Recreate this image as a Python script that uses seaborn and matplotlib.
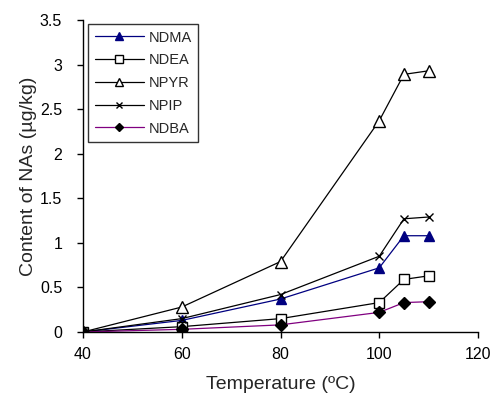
import matplotlib
matplotlib.use("Agg")
import matplotlib.pyplot as plt
import seaborn as sns
import pandas as pd

temperature = [40, 60, 80, 100, 105, 110]
ndma = [0.0, 0.13, 0.37, 0.72, 1.08, 1.08]
ndea = [0.0, 0.06, 0.15, 0.33, 0.59, 0.63]
npyr = [0.0, 0.28, 0.79, 2.37, 2.89, 2.93]
npip = [0.0, 0.15, 0.42, 0.85, 1.27, 1.29]
ndba = [0.0, 0.03, 0.08, 0.22, 0.33, 0.34]
x_ticks = [40, 60, 80, 100, 120]
y_ticks = [0, 0.5, 1, 1.5, 2, 2.5, 3, 3.5]

sns.set_style("white")
plt.rcParams['font.family'] = ['Liberation Sans', 'DejaVu Sans']

fig = plt.figure(figsize=(4.92, 4.01), dpi=100)
ax = fig.add_axes([83/492, 1 - 332/401, (478-83)/492, (332-20)/401])

styles = [
    ("NDMA", ndma, dict(color="#000080", marker="^", markerfacecolor="#000080", markeredgecolor="#000080", markersize=7)),
    ("NDEA", ndea, dict(color="black", marker="s", markerfacecolor="white", markeredgecolor="black", markersize=7)),
    ("NPYR", npyr, dict(color="black", marker="^", markerfacecolor="white", markeredgecolor="black", markersize=8)),
    ("NPIP", npip, dict(color="black", marker="x", markeredgecolor="black", markersize=6)),
    ("NDBA", ndba, dict(color="#800080", marker="D", markerfacecolor="black", markeredgecolor="black", markersize=6)),
]
for name, vals, st in styles:
    df = pd.DataFrame({"t": temperature, "v": vals})
    sns.lineplot(data=df, x="t", y="v", ax=ax, label=name, linewidth=0.9,
                 markeredgewidth=1.0, **st)

ax.set_xlim(40, 120)
ax.set_ylim(0, 3.5)
ax.set_xticks(x_ticks)
ax.set_yticks(y_ticks)
ax.set_yticklabels([f"{v:g}" for v in y_ticks])
ax.set_xlabel("Temperature (ºC)", fontsize=14, labelpad=10)
ax.set_ylabel("Content of NAs (µg/kg)", fontsize=14, labelpad=2)
ax.tick_params(axis="both", labelsize=11.5, direction="out", length=4, width=1,
               colors="black", left=True, bottom=True)
ax.tick_params(axis="x", pad=7)
ax.tick_params(axis="y", pad=11)
for s in ["top", "right"]:
    ax.spines[s].set_visible(False)
for s in ["left", "bottom"]:
    ax.spines[s].set_color("black")
    ax.spines[s].set_linewidth(1.0)

leg = ax.legend(loc="upper left", bbox_to_anchor=(5/395, 1 - 4/312), fontsize=10.5,
                handlelength=3.4, frameon=True, fancybox=False, borderpad=0.45,
                labelspacing=0.6, handletextpad=0.3, borderaxespad=0,
                markerscale=0.75)
leg.get_frame().set_edgecolor("black")
leg.get_frame().set_linewidth(1.0)

fig.savefig("out.png", dpi=100)
